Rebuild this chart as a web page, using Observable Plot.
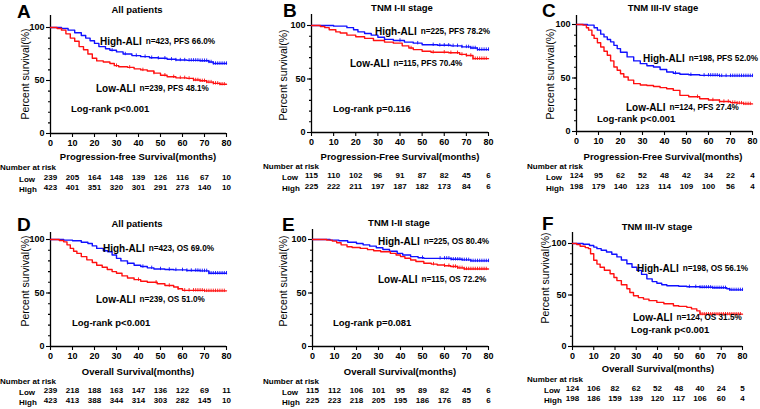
<!DOCTYPE html>
<html><head><meta charset="utf-8">
<script src="https://cdn.jsdelivr.net/npm/d3@7"></script>
<script src="https://cdn.jsdelivr.net/npm/@observablehq/plot@0.6"></script>
<style>
html,body{margin:0;padding:0;background:#fff;}
#wrap{position:relative;width:760px;height:409px;overflow:hidden;background:#fff;font-family:"Liberation Sans",Arial,Helvetica,sans-serif;}
</style></head><body><div id="wrap"></div>
<script>
const FONT = '"Liberation Sans", Arial, Helvetica, sans-serif';
const BLUE = "#1010ff", RED = "#ff1010";

// ---- survival curves: [month, percent surviving] ----
const pfsAllHigh = [[0,100],[5,99],[8,97.5],[11,95],[14,92.5],[16,90],[18,87.5],[20,85],[22,82],[25,80],[27,78.5],[30,77],[33,75],[37,73.5],[41,72.5],[45,71.5],[49,71],[53,70],[57,69.3],[62,69],[68,68.7],[72,67.5],[74,66],[80,66]];
const pfsAllLow = [[0,100],[3,99],[5,97.5],[7,94],[9,90],[11,87],[13,82],[15,79],[17,75],[19,71],[21,68.5],[24,67.5],[27,66],[29,64],[31,63],[35,62.4],[38,61],[41,60],[44,59],[47,57],[50,55],[53,53.5],[57,52.5],[62,52],[65,50.5],[68,49.7],[71,48.5],[74,47.3],[77,46.5],[80,46.5]];
const pfsEarlyHigh = [[0,100],[10,99.4],[16,98],[19,96],[21,94],[24,92.5],[27,91],[30,89],[33,87],[37,86],[42,84.5],[46,83.5],[50,82],[57,81.5],[63,81],[68,80],[72,79],[75,77.5],[80,77.5]];
const pfsEarlyLow = [[0,100],[4,99],[6,98],[8,96],[11,94],[13,93],[16,91],[20,89.5],[24,88],[28,86],[33,84.5],[37,83.5],[41,81],[44,79],[46,77.5],[50,76],[54,75],[62,74.5],[67,73],[70,72],[73,69],[80,69]];
const pfsLateHigh = [[0,100],[5,99.4],[8,97],[9.5,94.7],[11,91],[12.5,88.4],[14,86],[15.5,83.8],[17,80.5],[18.5,77.5],[20,74],[23,69.7],[26,66],[29,63.4],[32,61.5],[35,60.3],[38,58],[41,55.6],[44,54.5],[47,53.5],[51,53],[56,52.5],[65,52],[80,52]];
const pfsLateLow = [[0,100],[3,99.4],[4.5,97],[5.5,94.7],[7,90],[8,87],[9.5,83],[11,79],[12.5,75],[14,71.3],[15.5,66],[17,60.3],[18.5,57.2],[20,54],[21.5,51],[23.5,48],[26,44.7],[29,43.5],[32,43],[35,42],[38,41],[41,40],[44,38.4],[47,33.8],[51,32.5],[56,30.6],[60,29.5],[65,28],[70,27],[73,26.5],[76,25.8],[80,25.8]];
const osAllHigh = [[0,100],[6,99.4],[10,98.8],[14,97.5],[17,96.3],[19,94],[21,91.7],[24,89.5],[26,88.6],[28,85.5],[30,82.4],[32,80],[35,77.8],[38,76],[41,74.7],[44,73.5],[47,72.5],[52,72],[56,71.6],[62,71],[68,70.7],[72,68.5],[80,68.5]];
const osAllLow = [[0,100],[4,99],[6,97.8],[7.5,95],[9,91.7],[10.5,89],[12,87],[14,84],[16.5,81],[19,78.5],[21,76],[23.5,74],[25.8,72],[28,70],[30,68.5],[32.5,66],[35,64],[38,62.5],[41,61],[44,60],[48.5,58.6],[52,57],[56,55.6],[58,54],[60,52.5],[70,52],[80,52]];
const osEarlyHigh = [[0,100],[8,99.4],[12,98.8],[16,97.5],[20,96.3],[23,95],[26,93.8],[29,92.3],[32,90.7],[35,89],[38.5,87],[41,85.5],[44.6,84],[48,83],[50.6,82.4],[60,82.4],[63,81.5],[68,81],[72,80],[80,80]];
const osEarlyLow = [[0,100],[6.5,99.4],[9,98.5],[11,97],[13,95],[15.7,93.2],[18,92.5],[21.7,91.7],[25,90.5],[27.8,89.5],[31,88.5],[35.4,87],[38,85.5],[40,84],[42,82.5],[44.6,80.9],[47,79.5],[50.6,77.8],[54,77],[56.7,76.2],[60,75.5],[62.8,74.7],[66,73.5],[68.9,72.5],[80,72.5]];
const osLateHigh = [[0,100],[5,99.3],[8,98],[10,96.5],[11.5,95],[13.5,93.5],[16,91.8],[18.5,89.5],[20.9,87],[23,84],[25.6,80.4],[28,77],[30.3,73.9],[32.5,70],[35,65.7],[37.5,63],[39.7,61.4],[42,60],[44.4,59],[50,58.5],[53.8,58],[60,57.5],[66,57],[72.6,56],[74,55],[80,55]];
const osLateLow = [[0,100],[2,99],[3.6,97.4],[6,96],[7.5,95],[8.5,90],[10,83.7],[11.5,80],[13,77],[15,74],[17.7,70.6],[19.5,67],[20.9,64],[23,60],[25.6,56],[27,52.5],[28.7,49.3],[31,47.5],[33.4,46],[36,44.5],[39.7,42.8],[43,41.5],[47.5,39.5],[50,39],[53.8,38],[56,36.5],[58.5,34.6],[60,31.4],[80,31.4]];

// ---- censoring times (months) ----
const censAllHighPfs = [28,34,39,43,46,49,52,55,57,59,61,63,64,65,66,67,68,69,70,71,72,73,74,75,76,77,78,79,80];
const censAllLowPfs = [30,36,42,47,52,56,59,61,63,65,66,67,68,69,70,71,72,73,74,75,76,77,78,79];
const censEarlyHighPfs = [40,48,55,58,60,62,64,66,68,70,71,72,73,74,75,76,77,78,79,80];
const censEarlyLowPfs = [45,55,60,63,66,68,70,72,73,74,75,76,77,78,79];
const censLateHighPfs = [45,52,58,60,61,62,63,64,65,66,68,70,71,72,73,74,75,76,77,78,79,80];
const censLateLowPfs = [55,62,65,67,69,71,72,73,74,75,76,77,78,79];
const censAllHighOs = [35,42,46,50,54,57,60,62,64,66,67,68,69,70,71,72,73,74,75,76,77,78,79,80];
const censAllLowOs = [40,48,54,58,61,63,65,66,67,68,69,70,71,72,73,74,75,76,77,78,79];
const censEarlyHighOs = [50,58,60,61,62,63,64,65,66,67,68,69,70,71,72,73,74,75,76,77,78,79,80];
const censEarlyLowOs = [55,60,62,64,65,66,67,68,69,70,71,72,73,74,75,76,77,78,79];
const censLateHighOs = [55,58,60,61,62,63,64,65,66,67,68,69,70,71,72,74,75,76,77,78,79,80];
const censLateLowOs = [60,61,62,63,64,65,66,67,68,69,70,71,72,73,74,75,76,77,78,79];

// ---- numbers at risk ----
const riskTimes = [0,10,20,30,40,50,60,70,80];
const riskPfsAllLow = [239,205,164,148,139,126,116,67,10];
const riskPfsAllHigh = [423,401,351,320,301,291,273,140,10];
const riskPfsEarlyLow = [115,110,102,96,91,87,82,45,6];
const riskPfsEarlyHigh = [225,222,211,197,187,182,173,84,6];
const riskPfsLateLow = [124,95,62,52,48,42,34,22,4];
const riskPfsLateHigh = [198,179,140,123,114,109,100,56,4];
const riskOsAllLow = [239,218,188,163,147,136,122,69,11];
const riskOsAllHigh = [423,413,388,344,314,303,282,145,10];
const riskOsEarlyLow = [115,112,106,101,95,89,82,45,6];
const riskOsEarlyHigh = [225,223,218,205,195,186,176,85,6];
const riskOsLateLow = [124,106,82,62,52,48,40,24,5];
const riskOsLateHigh = [198,186,159,139,120,117,106,60,4];

// ---- axis ticks ----
const xTicks = [0,10,20,30,40,50,60,70,80];
const yMajor = [0,50,100];
const yMinor = [0,10,20,30,40,50,60,70,80,90,100];

// ---- panel texts ----
const panelText = {
  A:{title:"All patients", xTitle:"Progression-free Survival(months)", high:"n=423, PFS 66.0%", low:"n=239, PFS 48.1%", p:"Log-rank p<0.001"},
  B:{title:"TNM I-II stage", xTitle:"Progression-Free Survival(months)", high:"n=225, PFS 78.2%", low:"n=115, PFS 70.4%", p:"Log-rank p=0.116"},
  C:{title:"TNM III-IV stage", xTitle:"Progression-Free Survival(months)", high:"n=198, PFS 52.0%", low:"n=124, PFS 27.4%", p:"Log-rank p<0.001"},
  D:{title:"All patients", xTitle:"Overall Survival(months)", high:"n=423, OS 69.0%", low:"n=239, OS 51.0%", p:"Log-rank p<0.001"},
  E:{title:"TNM I-II stage", xTitle:"Overall Survival(months)", high:"n=225, OS 80.4%", low:"n=115, OS 72.2%", p:"Log-rank p=0.081"},
  F:{title:"TNM III-IV stage", xTitle:"Overall Survival(months)", high:"n=198, OS 56.1%", low:"n=124, OS 31.5%", p:"Log-rank p<0.001"}
};

// ---- layout (pixels) ----
const layout = [
  {k:"A", col:[0,250], row:[0,200], x0:50, x80:226, y100:27, y0:133, yTop:15, riskDy:[46,56],
   letter:[17,11], title:[137,9], xT:[138,156], yT:[25,74], nar:[0,167], rowL:[19,179,189],
   hi:[100,41], lo:[96,88], p:[71,108]},
  {k:"B", col:[250,500], row:[0,200], x0:311, x80:488, y100:25, y0:132, yTop:14, riskDy:[45,56],
   letter:[283,10], title:[402,7], xT:[400,156], yT:[283,75], nar:[263,166], rowL:[282,177,188],
   hi:[375,31], lo:[350,63], p:[333,108]},
  {k:"C", col:[500,760], row:[0,200], x0:576, x80:752, y100:24, y0:131, yTop:15, riskDy:[46,57],
   letter:[542,10], title:[663,7], xT:[663,156], yT:[550,74], nar:[527,166], rowL:[546,177,188],
   hi:[643,58], lo:[626,107], p:[597,118]},
  {k:"D", col:[0,250], row:[200,409], x0:50, x80:226, y100:239, y0:346, yTop:232, riskDy:[46,56],
   letter:[17,224], title:[137,223], xT:[138,371], yT:[25,281], nar:[0,381], rowL:[19,392,402],
   hi:[103,248], lo:[96,299], p:[72,322]},
  {k:"E", col:[250,500], row:[200,409], x0:312, x80:488, y100:239, y0:346, yTop:229, riskDy:[46,56],
   letter:[282,224], title:[399,222], xT:[400,371], yT:[283,281], nar:[263,381], rowL:[282,392,402],
   hi:[378,241], lo:[378,279], p:[333,322]},
  {k:"F", col:[500,760], row:[200,409], x0:572, x80:742, y100:243, y0:346, yTop:232, riskDy:[44,54],
   letter:[542,223], title:[657,226], xT:[658,368], yT:[545,278], nar:[527,379], rowL:[544,390,400],
   hi:[637,268], lo:[633,317], p:[631,329]}
];

const series = {
  A:{high:pfsAllHigh, low:pfsAllLow, cH:censAllHighPfs, cL:censAllLowPfs, rL:riskPfsAllLow, rH:riskPfsAllHigh},
  B:{high:pfsEarlyHigh, low:pfsEarlyLow, cH:censEarlyHighPfs, cL:censEarlyLowPfs, rL:riskPfsEarlyLow, rH:riskPfsEarlyHigh},
  C:{high:pfsLateHigh, low:pfsLateLow, cH:censLateHighPfs, cL:censLateLowPfs, rL:riskPfsLateLow, rH:riskPfsLateHigh},
  D:{high:osAllHigh, low:osAllLow, cH:censAllHighOs, cL:censAllLowOs, rL:riskOsAllLow, rH:riskOsAllHigh},
  E:{high:osEarlyHigh, low:osEarlyLow, cH:censEarlyHighOs, cL:censEarlyLowOs, rL:riskOsEarlyLow, rH:riskOsEarlyHigh},
  F:{high:osLateHigh, low:osLateLow, cH:censLateHighOs, cL:censLateLowOs, rL:riskOsLateLow, rH:riskOsLateHigh}
};

function toRows(arr){ return arr.map(([t,s]) => ({t, s})); }
function survAt(curve, t){ let s = curve[0][1]; for (const [ti, si] of curve) { if (ti <= t) s = si; else break; } return s; }
function censRows(curve, times){ return times.map(t => ({t, s: survAt(curve, t)})); }

const wrap = document.getElementById("wrap");

for (const L of layout) {
  const S = series[L.k];
  const W = L.col[1]-L.col[0], H = L.row[1]-L.row[0];
  const yMax = 100*(L.y0-L.yTop)/(L.y0-L.y100);
  const riskL = riskTimes.map((t,i)=>({t, n:S.rL[i]}));
  const riskH = riskTimes.map((t,i)=>({t, n:S.rH[i]}));
  const chart = Plot.plot({
    width: W, height: H,
    marginLeft: L.x0-L.col[0], marginRight: L.col[1]-L.x80,
    marginTop: L.yTop-L.row[0], marginBottom: L.row[1]-L.y0,
    x: {domain:[0,80]},
    y: {domain:[0,yMax]},
    style: {fontFamily: FONT, fontSize:"9px", fontWeight:"bold", color:"#000", background:"transparent", overflow:"visible"},
    marks: [
      Plot.axisY({ticks: yMinor, tickSize: 2, text: null, label: null, strokeWidth: 1.1}),
      Plot.axisY({ticks: yMajor, tickSize: 4, tickPadding: 2, label: null, fontSize: 9, fontWeight: "bold", strokeWidth: 1.1}),
      Plot.axisX({ticks: xTicks, tickSize: 4, tickPadding: 2, label: null, fontSize: 9, fontWeight: "bold", strokeWidth: 1.1}),
      Plot.ruleX([0], {strokeWidth: 1.3}),
      Plot.ruleY([0], {strokeWidth: 1.3}),
      Plot.line(toRows(S.high), {x:"t", y:"s", curve:"step-after", stroke: BLUE, strokeWidth: 1.4}),
      Plot.ruleX(censRows(S.high, S.cH), {x:"t", y1: d=>d.s-1.6, y2: d=>d.s+1.6, stroke: BLUE, strokeWidth: 0.9}),
      Plot.line(toRows(S.low), {x:"t", y:"s", curve:"step-after", stroke: RED, strokeWidth: 1.4}),
      Plot.ruleX(censRows(S.low, S.cL), {x:"t", y1: d=>d.s-1.6, y2: d=>d.s+1.6, stroke: RED, strokeWidth: 0.9}),
      Plot.text(riskL, {x:"t", text: d=>String(d.n), frameAnchor:"bottom", dy: L.riskDy[0], fontSize: 8, fontWeight:"bold"}),
      Plot.text(riskH, {x:"t", text: d=>String(d.n), frameAnchor:"bottom", dy: L.riskDy[1], fontSize: 8, fontWeight:"bold"})
    ]
  });
  chart.style.position = "absolute";
  chart.style.left = L.col[0]+"px";
  chart.style.top = L.row[0]+"px";
  chart.style.maxWidth = "none";
  wrap.append(chart);
}

// ---- overlay text ----
const ov = d3.create("svg").attr("width",760).attr("height",409)
  .style("position","absolute").style("left","0px").style("top","0px").style("overflow","visible")
  .attr("font-family", FONT).attr("fill","#000");
function txt(x,y,s,size,weight,anchor,rot){
  const t = ov.append("text").attr("x",x).attr("y",y).attr("font-size",size).attr("font-weight",weight||"bold")
    .attr("text-anchor",anchor||"start").attr("dominant-baseline","central").text(s);
  if (rot) t.attr("transform",`rotate(${rot},${x},${y})`);
  return t;
}
function group(x,y,name,stat){
  const t = ov.append("text").attr("x",x).attr("y",y).attr("font-weight","bold").attr("dominant-baseline","central");
  t.append("tspan").attr("font-size",10).text(name);
  t.append("tspan").attr("font-size",8.2).attr("dx",4).text(stat);
}
for (const L of layout) {
  const T = panelText[L.k];
  txt(L.letter[0], L.letter[1], L.k, 19, "bold");
  txt(L.title[0], L.title[1], T.title, 9.5, "bold", "middle");
  txt(L.xT[0], L.xT[1], T.xTitle, 9.5, "bold", "middle");
  txt(L.yT[0], L.yT[1], "Percent survival(%)", 10.5, "normal", "middle", -90);
  txt(L.nar[0], L.nar[1], "Number at risk", 8, "bold");
  txt(L.rowL[0], L.rowL[1], "Low", 8, "bold");
  txt(L.rowL[0], L.rowL[2], "High", 8, "bold");
  group(L.hi[0], L.hi[1], "High-ALI", T.high);
  group(L.lo[0], L.lo[1], "Low-ALI", T.low);
  txt(L.p[0], L.p[1], T.p, 9.5, "bold");
}
wrap.append(ov.node());
</script>
</body></html>
